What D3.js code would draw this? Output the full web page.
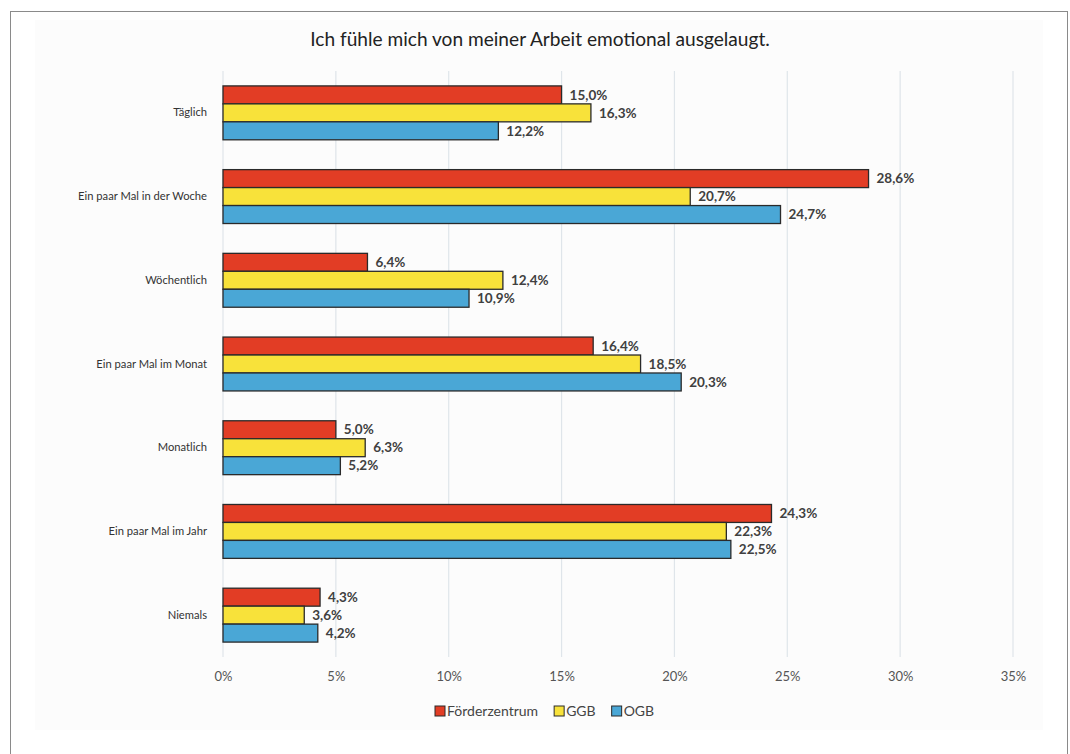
<!DOCTYPE html>
<html><head><meta charset="utf-8">
<script src="https://cdn.jsdelivr.net/npm/d3@7"></script>
<style>html,body{margin:0;padding:0;background:#fff;}</style>
</head><body>
<svg id="c" width="1070" height="754"></svg>
<script>
const title = "Ich fühle mich von meiner Arbeit emotional ausgelaugt.";
const categories = ["Täglich","Ein paar Mal in der Woche","Wöchentlich","Ein paar Mal im Monat","Monatlich","Ein paar Mal im Jahr","Niemals"];
const seriesNames = ["Förderzentrum","GGB","OGB"];
const foerderzentrum = [15.0,28.6,6.4,16.4,5.0,24.3,4.3];
const ggb = [16.3,20.7,12.4,18.5,6.3,22.3,3.6];
const ogb = [12.2,24.7,10.9,20.3,5.2,22.5,4.2];
const xTicks = [0,5,10,15,20,25,30,35];
const colors = ["#e23d25","#f8e23a","#4aa7d6"];

const seriesValues = [foerderzentrum, ggb, ogb];
const svg = d3.select("#c");
const FONT = "Lato, 'Open Sans', sans-serif";
const de = d3.formatLocale({decimal:",", thousands:".", grouping:[3], currency:["","€"]});
const fmt = de.format(".1f");

// frame
svg.append("rect").attr("x",10.5).attr("y",11.5).attr("width",1057).attr("height",760)
  .attr("fill","#fff").attr("stroke","#8a8a8a").attr("stroke-width",1);
svg.append("rect").attr("x",35).attr("y",20).attr("width",1008).attr("height",710).attr("fill","#fcfcfc");

const x = d3.scaleLinear().domain([0,35]).range([223,1013]);
const y0 = d3.scaleBand().domain(categories).range([71,657]).padding(0);
const y1 = d3.scaleBand().domain(seriesNames).range([0,y0.bandwidth()]).paddingInner(0).paddingOuter(0.83);

// gridlines
svg.append("g").selectAll("line").data(xTicks).join("line")
  .attr("x1",d=>x(d)).attr("x2",d=>x(d)).attr("y1",71).attr("y2",657)
  .attr("stroke","#dfe5ea").attr("stroke-width",1.2);

// x axis labels
const xAxis = d3.axisBottom(x).tickValues(xTicks).tickFormat(d=>d+"%").tickSize(0).tickPadding(0);
const gx = svg.append("g").attr("transform","translate(0,672)").call(xAxis);
gx.select(".domain").remove();
gx.selectAll("text").attr("font-family",FONT).attr("font-size",13).attr("fill","#555").attr("dy","0.71em");

// y axis labels
const yAxis = d3.axisLeft(y0).tickSize(0).tickPadding(16);
const gy = svg.append("g").attr("transform","translate(223,0)").call(yAxis);
gy.select(".domain").remove();
gy.selectAll("text").attr("font-family",FONT).attr("font-size",11.2).attr("fill","#333");

// bars
const rows = [];
categories.forEach((c,i)=>seriesNames.forEach((s,j)=>rows.push({c, s, j, v: seriesValues[j][i]})));
const g = svg.append("g");
g.selectAll("rect").data(rows).join("rect")
  .attr("x",x(0)).attr("y",d=>y0(d.c)+y1(d.s))
  .attr("width",d=>x(d.v)-x(0)).attr("height",y1.bandwidth())
  .attr("fill",d=>colors[d.j]).attr("stroke","#2a2a2a").attr("stroke-width",1.3);
g.selectAll("text").data(rows).join("text")
  .attr("x",d=>x(d.v)+8).attr("y",d=>y0(d.c)+y1(d.s)+y1.bandwidth()/2)
  .attr("dy","0.35em").attr("font-family",FONT).attr("font-size",13.5).attr("font-weight","bold")
  .attr("fill","#404040").text(d=>fmt(d.v)+"%");

// title
const t = svg.append("text").attr("x",540).attr("y",46).attr("text-anchor","middle")
  .attr("font-family",FONT).attr("font-size",17).attr("fill","#222").text(title);
const tw = t.node().getComputedTextLength();
t.attr("font-size", 17*460/tw);

// legend
const leg = svg.append("g");
let lx = 435;
seriesNames.forEach((s,j)=>{
  leg.append("rect").attr("x",lx).attr("y",706).attr("width",10).attr("height",10)
    .attr("fill",colors[j]).attr("stroke","#2a2a2a").attr("stroke-width",1);
  const tt = leg.append("text").attr("x",lx+12).attr("y",711).attr("dy","0.35em")
    .attr("font-family",FONT).attr("font-size",14).attr("fill","#444").text(s);
  lx += 12 + tt.node().getComputedTextLength() + 16;
});
</script>
</body></html>
